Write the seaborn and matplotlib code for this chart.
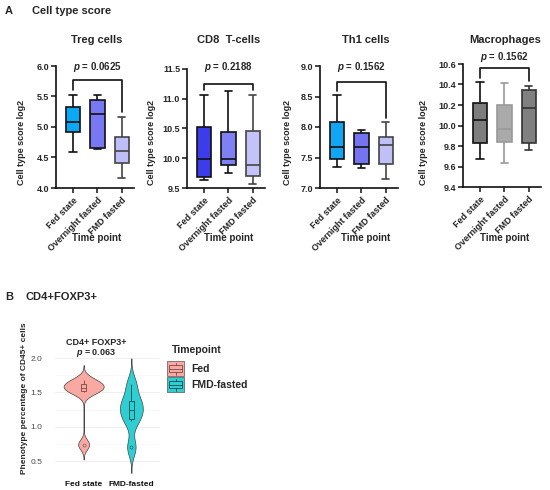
import numpy as np
import pandas as pd
import matplotlib
matplotlib.use("Agg")
import matplotlib.pyplot as plt
import seaborn as sns
from matplotlib.patches import Rectangle
from matplotlib.ticker import FormatStrFormatter

sns.set_theme(style="ticks")
plt.rcParams['font.family'] = ['Liberation Sans', 'DejaVu Sans']
plt.rcParams['font.weight'] = 'bold'
plt.rcParams['mathtext.fontset'] = 'custom'
plt.rcParams['mathtext.it'] = 'Liberation Sans:bold:italic'
plt.rcParams['mathtext.rm'] = 'Liberation Sans:bold'

# ---------------- data: panel A (min, Q1, median, Q3, max per group) ----------------
groups = ["Fed state", "Overnight fasted", "FMD fasted"]

treg_fed = [4.59, 4.92, 5.09, 5.32, 5.53]
treg_overnight = [4.64, 4.66, 5.21, 5.45, 5.53]
treg_fmd = [4.17, 4.41, 4.60, 4.84, 5.17]

cd8_fed = [9.64, 9.69, 9.98, 10.53, 11.07]
cd8_overnight = [9.76, 9.88, 9.99, 10.44, 11.13]
cd8_fmd = [9.56, 9.71, 9.89, 10.45, 11.07]

th1_fed = [7.35, 7.47, 7.68, 8.08, 8.52]
th1_overnight = [7.32, 7.40, 7.68, 7.90, 7.95]
th1_fmd = [7.15, 7.40, 7.71, 7.83, 8.08]

mac_fed = [9.67, 9.83, 10.05, 10.215, 10.42]
mac_overnight = [9.63, 9.84, 9.97, 10.20, 10.41]
mac_fmd = [9.76, 9.83, 10.17, 10.35, 10.39]

panel_titles = ["Treg cells", "CD8  T-cells", "Th1 cells", "Macrophages"]
p_values = ["0.0625", "0.2188", "0.1562", "0.1562"]
y_ticks = [[4.0, 4.5, 5.0, 5.5, 6.0],
           [9.5, 10.0, 10.5, 11.0, 11.5],
           [7.0, 7.5, 8.0, 8.5, 9.0],
           [9.4, 9.6, 9.8, 10.0, 10.2, 10.4, 10.6]]
bracket_y = [5.77, 11.24, 8.74, 10.56]

# ---------------- data: panel B ----------------
fox_groups = ["Fed state", "FMD-fasted"]
fox_legend = ["Fed", "FMD-fasted"]
fox_fed = [0.74, 1.50, 1.55, 1.58, 1.63, 1.68]
fox_fmd = [0.70, 1.08, 1.20, 1.30, 1.40, 1.62]
fox_p = "0.063"

# ---------------- styling ----------------
W, H = 550, 490
fig = plt.figure(figsize=(W / 100, H / 100), dpi=100)


def px_axes(x0, y0, x1, y1):
    return fig.add_axes([x0 / W, 1 - y1 / H, (x1 - x0) / W, (y1 - y0) / H])


panels = [
    dict(vals=[treg_fed, treg_overnight, treg_fmd], box=(56, 66, 134, 188),
         fills=["#0AA8F5", "#7878F5", "#BEBEF8"], edges=["#111111", "#111111", "#444444"],
         xc=97, ylab_x=22),
    dict(vals=[cd8_fed, cd8_overnight, cd8_fmd], box=(187, 69, 265, 188),
         fills=["#3C3CEB", "#8080F5", "#C3C3FA"], edges=["#111111", "#111111", "#444444"],
         xc=229, ylab_x=152),
    dict(vals=[th1_fed, th1_overnight, th1_fmd], box=(320, 66, 398, 188),
         fills=["#12A5F2", "#7474F0", "#C0C0F8"], edges=["#111111", "#111111", "#444444"],
         xc=366, ylab_x=288),
    dict(vals=[mac_fed, mac_overnight, mac_fmd], box=(463, 64, 541, 187),
         fills=["#7D7D7D", "#AAAAAA", "#808080"], edges=["#111111", "#9A9A9A", "#333333"],
         xc=505, ylab_x=423),
]

ov = fig.add_axes([0, 0, 1, 1], zorder=10)
ov.set_xlim(0, W)
ov.set_ylim(H, 0)
ov.axis('off')

lw = 1.2
for i, pnl in enumerate(panels):
    ax = px_axes(*pnl["box"])
    for g, v, fc, ec in zip(groups, pnl["vals"], pnl["fills"], pnl["edges"]):
        sns.boxplot(x=[g] * len(v), y=v, order=groups, color=fc, linecolor=ec,
                    saturation=1, width=0.6, whis=(0, 100), linewidth=lw,
                    showfliers=False, ax=ax)
    yt = y_ticks[i]
    ax.set_ylim(yt[0], yt[-1])
    ax.set_xlim(-0.7, 2.5)
    ax.set_yticks(yt)
    ax.yaxis.set_major_formatter(FormatStrFormatter('%.1f'))
    ax.set_xticks(range(3))
    ax.set_xticklabels(groups, rotation=45, ha='right', rotation_mode='anchor', fontsize=6.5)
    ax.tick_params(axis='y', labelsize=6.5, length=3.5, width=lw, pad=1.5)
    ax.tick_params(axis='x', length=3.5, width=lw, pad=2)
    for lab in ax.get_yticklabels() + ax.get_xticklabels():
        lab.set_fontweight('bold')
    ax.set_xlabel("")
    ax.set_ylabel("")
    for s in ['top', 'right']:
        ax.spines[s].set_visible(False)
    for s in ['left', 'bottom']:
        ax.spines[s].set_linewidth(lw)
        ax.spines[s].set_color('#111111')
    rng = yt[-1] - yt[0]
    gap = 0.035 * rng
    by = bracket_y[i]
    ax.plot([0, 0, 2, 2], [max(pnl["vals"][0]) + gap, by, by, max(pnl["vals"][2]) + gap],
            color='#111111', lw=lw, clip_on=False)
    # texts
    xc = pnl["xc"]
    ov.text(xc, 40, panel_titles[i], ha='center', va='center', fontsize=8, fontweight='bold')
    ov.text(xc, 238, "Time point", ha='center', va='center', fontsize=7, fontweight='bold')
    ov.text(pnl["ylab_x"], 142, "Cell type score log2", rotation=90, ha='center', va='center',
            fontsize=6.5, fontweight='bold')
    ptxt_y = 57 if i == 3 else 67
    px = ax.transData.transform((1, 0))[0]
    ov.text(px, ptxt_y, "$p$ = " + p_values[i], ha='center', va='center', fontsize=7)

ov.text(5, 11, "A", fontsize=8, fontweight='bold', va='center')
ov.text(32, 11, "Cell type score", fontsize=8, fontweight='bold', va='center')
ov.text(5, 297, "B", fontsize=8, fontweight='bold', va='center')
ov.text(25, 297, "CD4+FOXP3+", fontsize=8, fontweight='bold', va='center')

# ---------------- panel B ----------------
fed_col = "#F7A9A2"
fmd_col = "#2ECFD3"
axb = px_axes(55, 355, 160, 477)
sns.violinplot(x=[fox_groups[0]] * len(fox_fed), y=fox_fed, order=fox_groups, color=fed_col,
               saturation=1, bw_method=0.207, cut=3, inner=None, density_norm='width',
               width=0.84, linewidth=0.5, linecolor='#444444', ax=axb)
sns.violinplot(x=[fox_groups[1]] * len(fox_fmd), y=fox_fmd, order=fox_groups, color=fmd_col,
               saturation=1, bw_method=0.40, cut=3, inner=None, density_norm='width',
               width=0.48, linewidth=0.5, linecolor='#444444', ax=axb)
for g, v, c, ec in [(fox_groups[0], fox_fed, fed_col, '#7a4a46'), (fox_groups[1], fox_fmd, fmd_col, '#1d4a4c')]:
    sns.boxplot(x=[g] * len(v), y=v, order=fox_groups, color=c, linecolor=ec, saturation=1,
                width=0.1, linewidth=0.6, fliersize=2.2,
                capprops=dict(visible=False),
                flierprops=dict(marker='o', markerfacecolor=c, markeredgecolor=ec, markeredgewidth=0.4),
                ax=axb)
axb.set_xlim(-0.6, 1.6)
axb.set_ylim(0.267, 2.044)
axb.set_yticks([0.5, 1.0, 1.5, 2.0])
axb.set_yticks([0.75, 1.25, 1.75], minor=True)
axb.yaxis.set_major_formatter(FormatStrFormatter('%.1f'))
axb.grid(axis='y', which='major', color='#EBEBEB', lw=0.6)
axb.grid(axis='y', which='minor', color='#F3F3F3', lw=0.4)
axb.set_axisbelow(True)
for s in axb.spines.values():
    s.set_visible(False)
axb.tick_params(axis='both', which='both', length=0)
axb.tick_params(axis='y', labelsize=6, labelcolor='#4D4D4D', pad=9)
axb.tick_params(axis='x', labelsize=6, labelcolor='#111111', pad=3)
for lab in axb.get_yticklabels():
    lab.set_fontweight('normal')
for lab in axb.get_xticklabels():
    lab.set_fontweight('bold')
axb.set_xlabel("")
axb.set_ylabel("")

ov.text(96, 342, "CD4+ FOXP3+", ha='center', va='center', fontsize=6.5, fontweight='bold')
ov.text(96, 353, "$p$ = " + fox_p, ha='center', va='center', fontsize=6.5)
ov.text(25, 398, "Phenotype percentage of CD45+ cells", rotation=90, ha='center', va='center',
        fontsize=6, fontweight='bold')

# legend
ov.text(172, 350, "Timepoint", fontsize=7.5, fontweight='bold', va='center')
for k, (lab, c, ec) in enumerate([(fox_legend[0], fed_col, '#7a4a46'), (fox_legend[1], fmd_col, '#1d4a4c')]):
    kx, ky, kw, kh = 167, 361 + 16 * k, 17, 15
    ov.add_patch(Rectangle((kx, ky), kw, kh, facecolor=c, edgecolor='#555555', lw=0.5))
    ov.add_patch(Rectangle((kx + 0.1 * kw, ky + 0.25 * kh), 0.8 * kw, 0.5 * kh,
                           facecolor='none', edgecolor=ec, lw=0.6))
    ov.plot([kx + 0.1 * kw, kx + 0.9 * kw], [ky + 0.5 * kh] * 2, color=ec, lw=0.6)
    ov.plot([kx + 0.5 * kw] * 2, [ky + 0.1 * kh, ky + 0.25 * kh], color=ec, lw=0.6)
    ov.plot([kx + 0.5 * kw] * 2, [ky + 0.75 * kh, ky + 0.9 * kh], color=ec, lw=0.6)
    ov.text(191, ky + kh / 2, lab, fontsize=7.5, fontweight='bold', va='center')

fig.savefig("out.png", dpi=100)
